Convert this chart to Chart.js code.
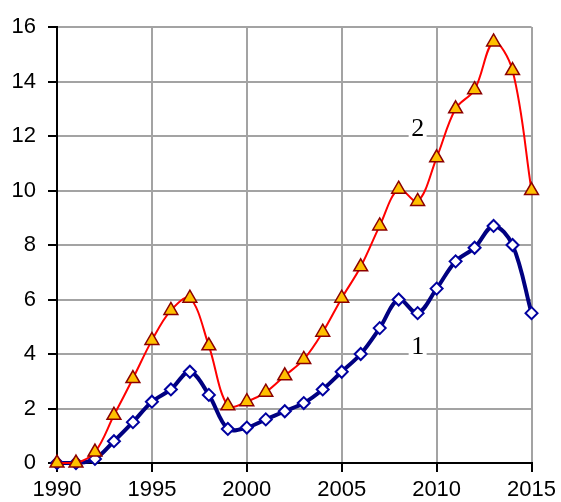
<!DOCTYPE html>
<html>
<head>
<meta charset="utf-8">
<script src="https://cdn.jsdelivr.net/npm/chart.js@4"></script>
<style>
  html, body { margin: 0; padding: 0; background: #fff; }
  #wrap { width: 561px; height: 502px; }
</style>
</head>
<body>
<div id="wrap"><canvas id="chart"></canvas></div>
<script>
const years = [1990, 1991, 1992, 1993, 1994, 1995, 1996, 1997, 1998, 1999, 2000, 2001, 2002,
    2003, 2004, 2005, 2006, 2007, 2008, 2009, 2010, 2011, 2012, 2013, 2014, 2015];
const series2 = [0, 0, 0.4, 1.75, 3.1, 4.5, 5.6, 6.05, 4.3, 2.1, 2.25, 2.6, 3.2,
    3.8, 4.8, 6.05, 7.2, 8.7, 10.05, 9.6, 11.2, 13.0, 13.7, 15.45, 14.4, 10.0];
const series1 = [0, 0, 0.15, 0.8, 1.5, 2.25, 2.7, 3.35, 2.5, 1.25, 1.3, 1.6, 1.9,
    2.2, 2.7, 3.35, 4.0, 4.95, 6.0, 5.5, 6.4, 7.4, 7.9, 8.7, 8.0, 5.5];
const curveLabels = [
    {text: '2', x: 2009, y: 12},
    {text: '1', x: 2009, y: 4},
];

function toPoints(values) {
    return values.map((v, i) => ({x: years[i], y: v}));
}

// curve numbers sit on a white patch that hides the grid line under them
const curveLabelPlugin = {
    id: 'curveLabels',
    beforeDatasetsDraw(chart) {
        const ctx = chart.ctx;
        const xs = chart.scales.x;
        const ys = chart.scales.y;
        ctx.save();
        ctx.font = '26px "Liberation Serif", "Times New Roman", serif';
        ctx.textAlign = 'center';
        ctx.textBaseline = 'alphabetic';
        curveLabels.forEach(l => {
            const px = xs.getPixelForValue(l.x);
            const py = ys.getPixelForValue(l.y);
            ctx.fillStyle = '#fff';
            ctx.fillRect(px - 9, py - 22, 18, 26);
            ctx.fillStyle = '#000';
            ctx.fillText(l.text, px, py);
        });
        ctx.restore();
    }
};

const gridColor = '#a3a3a3';

new Chart(document.getElementById('chart'), {
    type: 'line',
    data: {
        datasets: [{
            label: '2',
            data: toPoints(series2),
            borderColor: '#ff0000',
            borderWidth: 2,
            tension: 0.35,
            pointStyle: 'triangle',
            pointRadius: 8,
            pointBackgroundColor: '#ffc000',
            pointBorderColor: '#8b0000',
            pointBorderWidth: 1.5,
            order: 1,
            clip: false
        }, {
            label: '1',
            data: toPoints(series1),
            borderColor: '#000080',
            borderWidth: 4,
            tension: 0.35,
            pointStyle: 'rectRot',
            pointRadius: 6,
            pointBackgroundColor: '#ffffff',
            pointBorderColor: '#0000a0',
            pointBorderWidth: 2,
            order: 2,
            clip: false
        }]
    },
    options: {
        responsive: true,
        maintainAspectRatio: false,
        animation: false,
        layout: {
            padding: {left: 0, right: 28, top: 27, bottom: 0}
        },
        plugins: {
            legend: {display: false},
            tooltip: {enabled: false}
        },
        scales: {
            x: {
                type: 'linear',
                min: 1990,
                max: 2015,
                afterFit(scale) { scale.height = 39; },
                ticks: {
                    stepSize: 5,
                    padding: 5,
                    color: '#000',
                    font: {family: '"Liberation Sans", Arial, sans-serif', size: 22},
                    callback: v => String(v)
                },
                grid: {
                    color: gridColor,
                    lineWidth: 2,
                    tickColor: '#000',
                    tickLength: 9,
                    tickWidth: 2
                },
                border: {color: '#000', width: 2}
            },
            y: {
                min: 0,
                max: 16,
                afterFit(scale) { scale.width = 57; },
                ticks: {
                    stepSize: 2,
                    padding: 12,
                    color: '#000',
                    font: {family: '"Liberation Sans", Arial, sans-serif', size: 22}
                },
                grid: {
                    color: gridColor,
                    lineWidth: 2,
                    tickColor: '#000',
                    tickLength: 9,
                    tickWidth: 2
                },
                border: {color: '#000', width: 2}
            }
        }
    },
    plugins: [curveLabelPlugin]
});
</script>
</body>
</html>
